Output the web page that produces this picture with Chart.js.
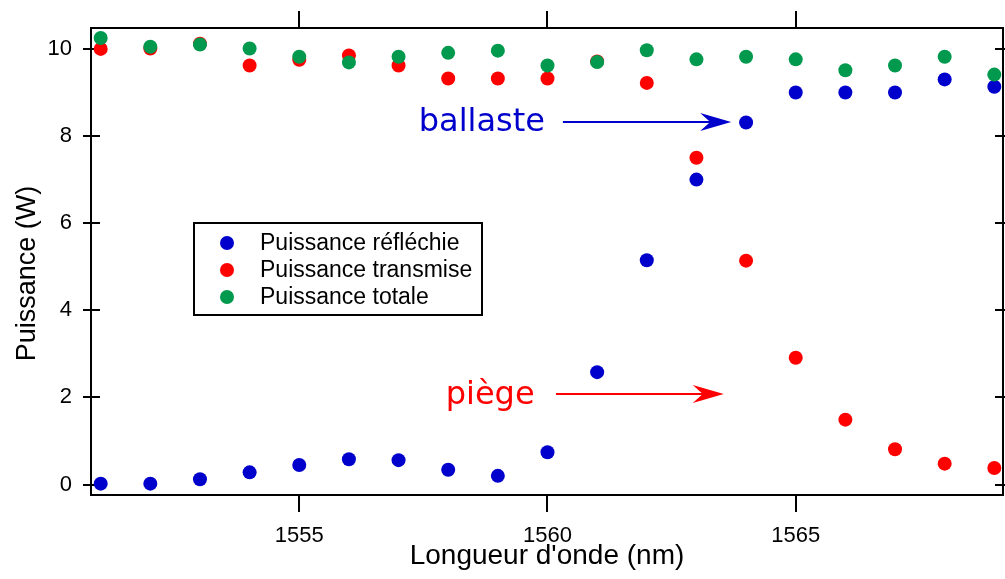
<!DOCTYPE html>
<html>
<head>
<meta charset="utf-8">
<script src="https://cdn.jsdelivr.net/npm/chart.js@4/dist/chart.umd.min.js"></script>
<style>
  html, body { margin: 0; padding: 0; background: #ffffff; }
  canvas { display: block; }
</style>
</head>
<body>
<canvas id="chart" width="1005" height="579"></canvas>
<script>
// Wavelength sweep (nm) and measured powers (W)
const wavelengths = [1551, 1552, 1553, 1554, 1555, 1556, 1557, 1558, 1559, 1560,
                     1561, 1562, 1563, 1564, 1565, 1566, 1567, 1568, 1569];
const reflected   = [0.02, 0.02, 0.12, 0.28, 0.45, 0.58, 0.56, 0.34, 0.20, 0.74,
                     2.58, 5.15, 7.00, 8.31, 9.00, 9.00, 9.00, 9.30, 9.13];
const transmitted = [10.00, 10.01, 10.12, 9.62, 9.75, 9.85, 9.62, 9.32, 9.32, 9.32,
                     9.71, 9.22, 7.50, 5.14, 2.91, 1.49, 0.81, 0.48, 0.38];
const total       = [10.25, 10.05, 10.10, 10.01, 9.82, 9.69, 9.82, 9.91, 9.96, 9.62,
                     9.70, 9.97, 9.76, 9.82, 9.76, 9.51, 9.62, 9.82, 9.41];

const seriesLabels = ['Puissance réfléchie', 'Puissance transmise', 'Puissance totale'];
const xTicks = [1555, 1560, 1565];
const yTicks = [0, 2, 4, 6, 8, 10];

const BLUE = 'rgb(0,0,204)';
const RED = 'rgb(255,0,0)';
const GREEN = 'rgb(0,153,77)';
const seriesColors = [BLUE, RED, GREEN];

const SANS = '"Liberation Sans", Arial, Helvetica, sans-serif';
const NOTE_FONT = '"DejaVu Sans", Verdana, sans-serif';

const toPoints = (ys) => wavelengths.map((x, i) => ({ x, y: ys[i] }));

// Text + arrow callouts, placed in data coordinates
const callouts = [
  { text: 'ballaste', color: BLUE, textX: 1559.95, textY: 8.12, fromX: 1560.31, toX: 1563.70, arrowY: 8.32 },
  { text: 'piège',    color: RED,  textX: 1559.74, textY: 1.84, fromX: 1560.17, toX: 1563.55, arrowY: 2.08 }
];

// Boxed frame with mirrored tick marks on all four sides
const frameTicks = {
  id: 'frameTicks',
  beforeDatasetsDraw(chart) {
    const { ctx, chartArea: a, scales: { x, y } } = chart;
    ctx.save();
    ctx.strokeStyle = '#000';
    ctx.lineWidth = 2;
    ctx.strokeRect(a.left, a.top, a.right - a.left, a.bottom - a.top);
    ctx.beginPath();
    xTicks.forEach(v => {
      const px = Math.round(x.getPixelForValue(v));
      ctx.moveTo(px, a.bottom); ctx.lineTo(px, a.bottom + 17);
      ctx.moveTo(px, a.top);    ctx.lineTo(px, a.top - 17);
    });
    yTicks.forEach(v => {
      const py = Math.round(y.getPixelForValue(v));
      ctx.moveTo(a.left - 8, py);  ctx.lineTo(a.left + 9, py);
      ctx.moveTo(a.right - 8, py); ctx.lineTo(a.right + 9, py);
    });
    ctx.stroke();

    // rotated y-axis title
    ctx.fillStyle = '#000';
    ctx.font = '27px ' + SANS;
    ctx.textAlign = 'center';
    ctx.textBaseline = 'middle';
    ctx.translate(27.5, 273.5);
    ctx.rotate(-Math.PI / 2);
    ctx.fillText('Puissance (W)', 0, 0);
    ctx.restore();
  }
};

// Legend box inside the plot
const boxedLegend = {
  id: 'boxedLegend',
  afterDatasetsDraw(chart) {
    const { ctx, chartArea: a } = chart;
    const bx = a.left + 103, by = a.top + 195, bw = 288, bh = 92;
    ctx.save();
    ctx.fillStyle = '#fff';
    ctx.fillRect(bx, by, bw, bh);
    ctx.strokeStyle = '#000';
    ctx.lineWidth = 2;
    ctx.strokeRect(bx, by, bw, bh);
    ctx.font = '23px ' + SANS;
    ctx.textAlign = 'left';
    ctx.textBaseline = 'middle';
    seriesLabels.forEach((label, i) => {
      const cy = by + 20 + i * 27;
      ctx.fillStyle = seriesColors[i];
      ctx.beginPath();
      ctx.arc(bx + 33, cy, 7, 0, Math.PI * 2);
      ctx.fill();
      ctx.fillStyle = '#000';
      ctx.fillText(label, bx + 66, cy + 1);
    });
    ctx.restore();
  }
};

// Labelled arrows pointing at the two regimes
const arrowNotes = {
  id: 'arrowNotes',
  afterDatasetsDraw(chart) {
    const { ctx, scales: { x, y } } = chart;
    ctx.save();
    callouts.forEach(c => {
      ctx.fillStyle = c.color;
      ctx.strokeStyle = c.color;
      ctx.font = '32px ' + NOTE_FONT;
      ctx.textAlign = 'right';
      ctx.textBaseline = 'alphabetic';
      ctx.fillText(c.text, x.getPixelForValue(c.textX), y.getPixelForValue(c.textY));

      const x0 = x.getPixelForValue(c.fromX);
      const x1 = x.getPixelForValue(c.toX);
      const ay = y.getPixelForValue(c.arrowY);
      ctx.lineWidth = 2;
      ctx.beginPath();
      ctx.moveTo(x0, ay);
      ctx.lineTo(x1 - 20, ay);
      ctx.stroke();
      ctx.beginPath();
      ctx.moveTo(x1, ay);
      ctx.lineTo(x1 - 31, ay - 9);
      ctx.lineTo(x1 - 21, ay);
      ctx.lineTo(x1 - 31, ay + 9);
      ctx.closePath();
      ctx.fill();
    });
    ctx.restore();
  }
};

const dot = (label, data, color, order) => ({
  label, data, order,
  backgroundColor: color,
  borderWidth: 0,
  pointRadius: 7,
  pointHoverRadius: 7,
  showLine: false
});

new Chart(document.getElementById('chart'), {
  type: 'scatter',
  data: {
    datasets: [
      dot(seriesLabels[0], toPoints(reflected), BLUE, 2),
      dot(seriesLabels[1], toPoints(transmitted), RED, 1),
      dot(seriesLabels[2], toPoints(total), GREEN, 0)
    ]
  },
  options: {
    responsive: false,
    animation: false,
    events: [],
    layout: { autoPadding: false, padding: { top: 28, right: 2, left: 0, bottom: 0 } },
    plugins: {
      legend: { display: false },
      tooltip: { enabled: false }
    },
    scales: {
      x: {
        type: 'linear',
        min: 1550.805,
        max: 1569.175,
        afterBuildTicks: s => { s.ticks = xTicks.map(v => ({ value: v })); },
        afterFit: s => { s.height = 84; s.paddingLeft = 0; s.paddingRight = 0; },
        grid: { display: false, drawTicks: false },
        border: { display: false },
        ticks: {
          color: '#000',
          padding: 28,
          maxRotation: 0,
          callback: v => String(v),
          font: { family: SANS, size: 22 }
        },
        title: {
          display: true,
          text: "Longueur d'onde (nm)",
          color: '#000',
          font: { family: SANS, size: 28 },
          padding: { top: 0, bottom: 6 }
        }
      },
      y: {
        type: 'linear',
        min: -0.24,
        max: 10.48,
        afterBuildTicks: s => { s.ticks = yTicks.map(v => ({ value: v })); },
        afterFit: s => { s.width = 91; s.paddingTop = 0; s.paddingBottom = 0; },
        grid: { display: false, drawTicks: false },
        border: { display: false },
        ticks: {
          color: '#000',
          padding: 19,
          callback: v => String(v),
          font: { family: SANS, size: 22 }
        }
      }
    }
  },
  plugins: [frameTicks, boxedLegend, arrowNotes]
});
</script>
</body>
</html>
